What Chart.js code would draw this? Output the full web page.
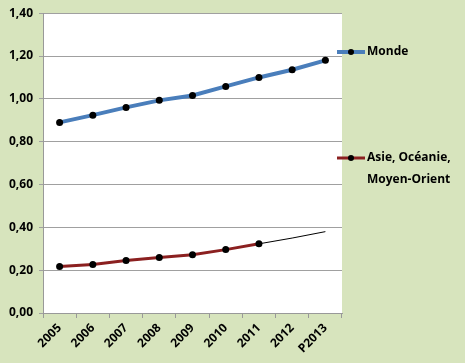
<!DOCTYPE html>
<html>
<head>
<meta charset="utf-8">
<script src="https://cdn.jsdelivr.net/npm/chart.js@4"></script>
<style>
  html, body { margin: 0; padding: 0; background: #d7e4bd; }
  #wrap { width: 465px; height: 363px; position: relative; }
</style>
</head>
<body>
<div id="wrap"><canvas id="chart" width="465" height="363"></canvas></div>
<script>
const years = ['2005', '2006', '2007', '2008', '2009', '2010', '2011', '2012', 'P2013'];
const monde = [0.89, 0.924, 0.96, 0.993, 1.016, 1.058, 1.10, 1.136, 1.18];
const asie = [0.217, 0.226, 0.245, 0.259, 0.272, 0.296, 0.323, null, null];
const asieProjection = [null, null, null, null, null, null, 0.323, 0.35, 0.38];

// white plot area on the green background
const plotBackground = {
    id: 'plotBackground',
    beforeDraw(chart) {
        const { ctx, chartArea } = chart;
        ctx.save();
        ctx.fillStyle = '#d7e4bd';
        ctx.fillRect(0, 0, chart.width, chart.height);
        ctx.fillStyle = '#ffffff';
        ctx.fillRect(chartArea.left, chartArea.top, chartArea.right - chartArea.left, chartArea.bottom - chartArea.top);
        ctx.restore();
    }
};

// legend on the right, like the spreadsheet one
const sideLegend = {
    id: 'sideLegend',
    afterDraw(chart) {
        const ctx = chart.ctx;
        const x0 = chart.chartArea.right - 5;
        const items = [
            { ds: chart.data.datasets[0], y: 52, lines: ['Monde'] },
            { ds: chart.data.datasets[1], y: 158, lines: ['Asie, Océanie,', 'Moyen-Orient'] }
        ];
        ctx.save();
        items.forEach(item => {
            ctx.strokeStyle = item.ds.borderColor;
            ctx.lineWidth = item.ds.borderWidth;
            ctx.beginPath();
            ctx.moveTo(x0, item.y);
            ctx.lineTo(x0 + 28, item.y);
            ctx.stroke();
            ctx.fillStyle = '#000';
            ctx.beginPath();
            ctx.arc(x0 + 14, item.y, 3, 0, Math.PI * 2);
            ctx.fill();
            ctx.font = 'bold 12px "Open Sans"';
            ctx.textBaseline = 'middle';
            item.lines.forEach((t, i) => ctx.fillText(t, x0 + 30, item.y + i * 22));
        });
        ctx.restore();
    }
};

new Chart(document.getElementById('chart'), {
    type: 'line',
    data: {
        labels: years,
        datasets: [{
            label: 'Monde',
            data: monde,
            borderColor: '#4a7ebb',
            borderWidth: 4,
            pointBackgroundColor: '#000',
            pointBorderWidth: 0,
            pointRadius: 3.5
        }, {
            label: 'Asie, Océanie, Moyen-Orient',
            data: asie,
            borderColor: '#8b2020',
            borderWidth: 3,
            pointBackgroundColor: '#000',
            pointBorderWidth: 0,
            pointRadius: 3.5
        }, {
            label: 'Projection',
            data: asieProjection,
            borderColor: '#000',
            borderWidth: 1,
            pointRadius: 0
        }]
    },
    options: {
        responsive: false,
        animation: false,
        layout: { padding: { top: 10, right: 123, left: 0, bottom: 0 } },
        plugins: {
            legend: { display: false },
            tooltip: { enabled: false }
        },
        scales: {
            x: {
                offset: true,
                grid: { offset: true, drawOnChartArea: false, color: '#999', tickLength: 5 },
                border: { color: '#999' },
                ticks: { color: '#000', font: { family: 'Open Sans', weight: 'bold', size: 12 }, minRotation: 45, maxRotation: 45, padding: 3 },
                afterFit(axis) { axis.height = 50; }
            },
            y: {
                min: 0,
                max: 1.4,
                ticks: {
                    stepSize: 0.2,
                    color: '#000',
                    font: { family: 'Open Sans', weight: 'bold', size: 12 },
                    padding: 6,
                    callback: v => v.toFixed(2).replace('.', ',')
                },
                grid: { color: '#a0a0a0', tickLength: 4 },
                border: { color: '#999' },
                afterFit(axis) { axis.width = 43; }
            }
        }
    },
    plugins: [plotBackground, sideLegend]
});
</script>
</body>
</html>
